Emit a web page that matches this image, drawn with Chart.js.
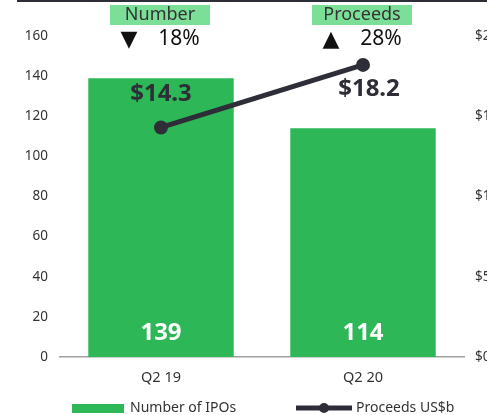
<!DOCTYPE html>
<html>
<head>
<meta charset="utf-8">
<script src="https://cdn.jsdelivr.net/npm/chart.js@4"></script>
<style>
  html, body { margin: 0; padding: 0; overflow: hidden; background: #fff; }
  #topbar { position: absolute; left: 17px; top: 0; width: 480px; height: 2px; background: #2e2e38; }
  #wrap { position: absolute; left: 0; top: 0; width: 520px; height: 415px; }
</style>
</head>
<body>
<div id="wrap"><canvas id="c"></canvas></div>
<div id="topbar"></div>
<script>
const categories = ["Q2 19", "Q2 20"];
const numberOfIPOs = [139, 114];
const proceeds = [14.3, 18.2];
const proceedsLabels = ["$14.3", "$18.2"];
const leftTicks = [0, 20, 40, 60, 80, 100, 120, 140, 160];
const rightTicks = [0, 5, 10, 15, 20];
const headers = ["Number", "Proceeds"];
const changes = [{ arrow: "▼", text: "18%" }, { arrow: "▲", text: "28%" }];
const seriesNames = ["Number of IPOs", "Proceeds US$b"];

const GREEN = "#2db757";
const LIGHTGREEN = "#7bdf98";
const DARK = "#2e2e38";
const FONT = "'Noto Sans', 'DejaVu Sans', sans-serif";

const overlay = {
  id: "overlay",
  afterDatasetsDraw(chart) {
    const ctx = chart.ctx;
    const xs = chart.scales.x;
    const barMeta = chart.getDatasetMeta(0);
    const lineMeta = chart.getDatasetMeta(1);
    ctx.save();
    // bar value labels
    ctx.fillStyle = "#ffffff";
    ctx.font = "bold 24px " + FONT;
    ctx.textAlign = "center";
    ctx.textBaseline = "middle";
    barMeta.data.forEach((b, i) => {
      ctx.fillText(String(numberOfIPOs[i]), b.x, chart.scales.y.getPixelForValue(0) - 24);
    });
    // line labels
    ctx.fillStyle = DARK;
    ctx.font = "bold 24px " + FONT;
    lineMeta.data.forEach((p, i) => {
      const dy = i === 0 ? -33 : 24;
      ctx.fillText(proceedsLabels[i], p.x + (i === 0 ? 0 : 6), p.y + dy);
    });
    // headers
    categories.forEach((c, i) => {
      const cx = xs.getPixelForValue(i) - 1;
      ctx.fillStyle = LIGHTGREEN;
      ctx.fillRect(cx - 50, 5, 100, 20);
      ctx.fillStyle = "#333333";
      ctx.font = "18px " + FONT;
      ctx.textAlign = "center";
      ctx.textBaseline = "middle";
      ctx.fillText(headers[i], cx, 15);
      ctx.fillStyle = "#111111";
      ctx.font = "22px 'DejaVu Sans', sans-serif";
      ctx.fillText(changes[i].arrow, cx - 31, 40);
      ctx.font = "21px " + FONT;
      ctx.fillText(changes[i].text, cx + 19, 39);
    });
    // legend
    const ly = 408;
    ctx.fillStyle = GREEN;
    ctx.fillRect(72, ly - 4, 52, 9);
    ctx.fillStyle = "#333333";
    ctx.font = "14px " + FONT;
    ctx.textAlign = "left";
    ctx.textBaseline = "middle";
    ctx.fillText(seriesNames[0], 130, ly);
    ctx.strokeStyle = DARK;
    ctx.lineWidth = 5;
    ctx.beginPath();
    ctx.moveTo(296, ly);
    ctx.lineTo(352, ly);
    ctx.stroke();
    ctx.fillStyle = DARK;
    ctx.beginPath();
    ctx.arc(324, ly, 5, 0, Math.PI * 2);
    ctx.fill();
    ctx.fillStyle = "#333333";
    ctx.fillText(seriesNames[1], 356, ly);
    ctx.restore();
  }
};

new Chart(document.getElementById("c"), {
  data: {
    labels: categories,
    datasets: [
      {
        type: "bar",
        label: seriesNames[0],
        data: numberOfIPOs,
        backgroundColor: GREEN,
        yAxisID: "y",
        categoryPercentage: 1,
        barPercentage: 0.72,
        order: 2
      },
      {
        type: "line",
        label: seriesNames[1],
        data: proceeds,
        borderColor: DARK,
        backgroundColor: DARK,
        borderWidth: 5,
        pointRadius: 7,
        pointBackgroundColor: DARK,
        pointBorderWidth: 0,
        yAxisID: "y1",
        order: 1
      }
    ]
  },
  options: {
    responsive: true,
    maintainAspectRatio: false,
    animation: false,
    layout: { padding: { top: 36, left: 0, right: 0, bottom: 0 } },
    plugins: { legend: { display: false }, tooltip: { enabled: false } },
    scales: {
      x: {
        grid: { display: false, drawTicks: false },
        border: { color: "#a0a0a0", width: 1.5 },
        ticks: { color: "#333333", font: { family: FONT, size: 14.5 }, padding: 12 },
        afterFit(s) { s.height = 58; }
      },
      y: {
        position: "left",
        min: 0, max: 160,
        afterBuildTicks(s) { s.ticks = leftTicks.map(v => ({ value: v })); },
        grid: { display: false, drawTicks: false },
        border: { display: false },
        ticks: { color: "#333333", font: { family: FONT, size: 13.5 }, padding: 12 },
        afterFit(s) { s.width = 60; }
      },
      y1: {
        position: "right",
        min: 0, max: 20,
        afterBuildTicks(s) { s.ticks = rightTicks.map(v => ({ value: v })); },
        grid: { display: false, drawTicks: false },
        border: { display: false },
        ticks: { color: "#333333", font: { family: FONT, size: 13.5 }, padding: 11, callback: v => "$" + v },
        afterFit(s) { s.width = 56; }
      }
    }
  },
  plugins: [overlay]
});
</script>
</body>
</html>
